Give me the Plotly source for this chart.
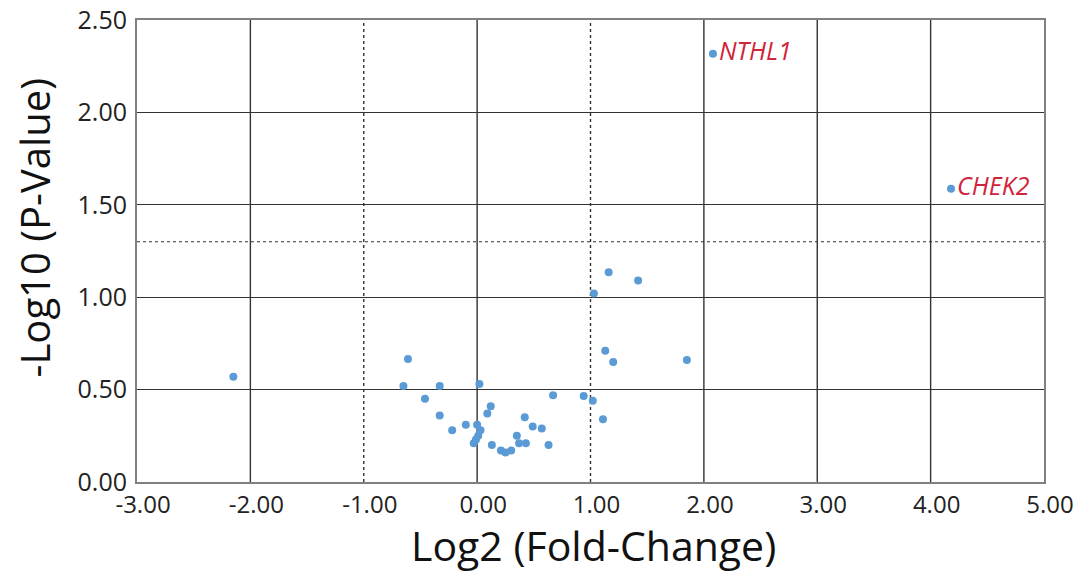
import plotly.graph_objects as go

# Data
log2_fc = [
    -2.15, -0.61, -0.65, -0.46, -0.33, -0.33, -0.22, -0.10,
    0.02, 0.00, 0.03, 0.01, -0.01, -0.03, 0.09, 0.12, 0.13,
    0.21, 0.25, 0.30, 0.35, 0.37, 0.43, 0.42, 0.49, 0.57, 0.63,
    0.67, 0.94, 1.02, 1.11, 1.03, 1.16, 1.42, 1.13, 1.20, 1.85,
    2.08, 4.18,
]
neg_log10_p = [
    0.57, 0.665, 0.52, 0.45, 0.52, 0.36, 0.28, 0.31,
    0.53, 0.31, 0.28, 0.25, 0.23, 0.21, 0.37, 0.41, 0.20,
    0.17, 0.16, 0.17, 0.25, 0.21, 0.21, 0.35, 0.30, 0.29, 0.20,
    0.47, 0.465, 0.44, 0.34, 1.02, 1.135, 1.09, 0.71, 0.65, 0.66,
    2.317, 1.587,
]
gene_labels = [""] * 37 + ["NTHL1", "CHEK2"]

x_ticks = [-3, -2, -1, 0, 1, 2, 3, 4, 5]
y_ticks = [0, 0.5, 1.0, 1.5, 2.0, 2.5]
fc_threshold = [-1, 1]
p_threshold = 1.30

fig = go.Figure()
fig.add_trace(go.Scatter(
    x=log2_fc, y=neg_log10_p, mode="markers+text",
    text=gene_labels, textposition="middle right",
    textfont=dict(family="Open Sans", size=25, color="#d0243a", style="italic"),
    marker=dict(size=8, color="#5b9bd5"),
    showlegend=False, cliponaxis=False,
))

shapes = []
for xv in x_ticks[1:-1]:
    dashed = xv in fc_threshold
    shapes.append(dict(type="line", xref="x", yref="paper", x0=xv, x1=xv, y0=0, y1=1,
                       line=dict(color="#333", width=1.4, dash="dot" if dashed else "solid"),
                       layer="below"))
shapes.append(dict(type="line", xref="paper", yref="y", x0=0, x1=1, y0=p_threshold, y1=p_threshold,
                   line=dict(color="#333", width=1.2, dash="dot"), layer="below"))

fig.update_layout(
    width=1078, height=572,
    margin=dict(l=137, r=34, t=20, b=90),
    plot_bgcolor="white", paper_bgcolor="white",
    shapes=shapes,
    font=dict(family="Open Sans", color="#222"),
    xaxis=dict(range=[-3, 5], tickvals=x_ticks, ticktext=[f"{v:.2f}" for v in x_ticks],
               showgrid=False, zeroline=False, showline=True, mirror=True,
               linecolor="#808080", linewidth=2, ticks="", automargin=False,
               ticklabelshift=6, ticklabelstandoff=0,
               tickfont=dict(size=24, color="#222")),
    yaxis=dict(range=[0, 2.5], tickvals=y_ticks, ticktext=[f"{v:.2f}" for v in y_ticks],
               showgrid=True, gridcolor="#333", gridwidth=1.4, zeroline=False,
               showline=True, mirror=True, linecolor="#808080", linewidth=2, ticks="",
               automargin=False, ticklabelstandoff=3,
               tickfont=dict(size=25, color="#222")),
    annotations=[
        dict(text="Log2 (Fold-Change)", xref="paper", yref="paper", x=0.503, y=-0.137,
             xanchor="center", yanchor="middle", showarrow=False, borderpad=0,
             font=dict(size=41, color="#111")),
        dict(text="-Log10 (P-Value)", xref="paper", yref="paper", x=-0.113, y=0.55,
             xanchor="center", yanchor="middle", textangle=-90, showarrow=False,
             font=dict(size=40, color="#111")),
    ],
)

fig.write_html("out.html", post_script="document.body.style.margin='0';",
               config={"displayModeBar": False})
